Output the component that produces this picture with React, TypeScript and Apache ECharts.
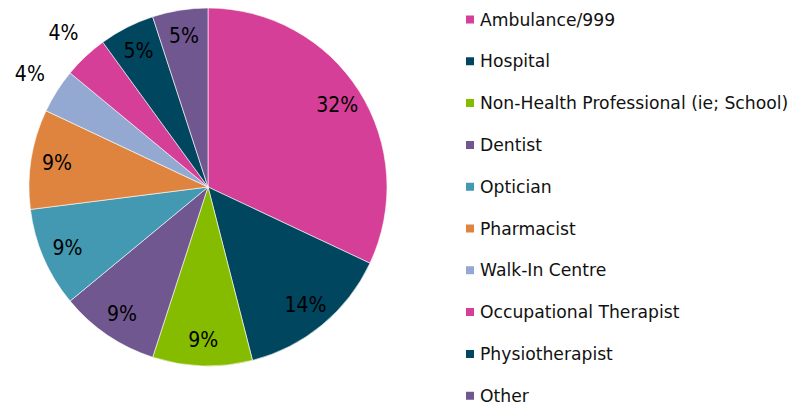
import React, { useEffect, useRef } from "react";
import * as echarts from "echarts";

const categories = [
  "Ambulance/999",
  "Hospital",
  "Non-Health Professional (ie; School)",
  "Dentist",
  "Optician",
  "Pharmacist",
  "Walk-In Centre",
  "Occupational Therapist",
  "Physiotherapist",
  "Other",
];
const values = [32, 14, 9, 9, 9, 9, 4, 4, 5, 5];
const colors = [
  "#D53F97",
  "#00465F",
  "#86BC00",
  "#71578F",
  "#4399B1",
  "#DE843F",
  "#93A9D2",
  "#D53F97",
  "#00465F",
  "#71578F",
];
// slices whose label sits outside the pie
const outsideLabel = [false, false, false, false, false, false, true, true, false, false];

const LABEL_FONT = "'DejaVu Sans Condensed', 'DejaVu Sans', sans-serif";
const LEGEND_FONT = "'DejaVu Sans', sans-serif";

export default function App() {
  const ref = useRef<HTMLDivElement>(null);
  useEffect(() => {
    document.body.style.margin = "0";
    const chart = echarts.init(ref.current!, undefined, { renderer: "svg" });
    const center = [208, 187];
    const labelStyle = {
      position: "inside",
      formatter: "{c}%",
      color: "#000",
      fontSize: 21,
      fontFamily: LABEL_FONT,
    };
    chart.setOption({
      animation: false,
      backgroundColor: "#fff",
      legend: {
        orient: "vertical",
        left: 464,
        top: 9.5,
        padding: 0,
        itemWidth: 10,
        itemHeight: 10,
        itemGap: 21.8,
        icon: "rect",
        data: categories,
        selectedMode: false,
        textStyle: { fontSize: 17.2, lineHeight: 20, color: "#111", fontFamily: LEGEND_FONT },
      },
      series: [
        {
          type: "pie",
          center,
          radius: 179,
          startAngle: 90,
          clockwise: true,
          label: { show: false },
          labelLine: { show: false },
          itemStyle: { borderColor: "#fff", borderWidth: 0.6 },
          data: categories.map((n, i) => ({
            name: n,
            value: values[i],
            itemStyle: { color: colors[i] },
          })),
        },
        {
          type: "pie",
          center,
          radius: [120, 180],
          silent: true,
          labelLine: { show: false },
          label: labelStyle,
          itemStyle: { color: "rgba(0,0,0,0)" },
          data: categories.map((n, i) => ({
            name: n,
            value: values[i],
            label: { show: !outsideLabel[i] },
          })),
        },
        {
          type: "pie",
          center,
          radius: [180, 236],
          silent: true,
          labelLine: { show: false },
          label: labelStyle,
          itemStyle: { color: "rgba(0,0,0,0)" },
          data: categories.map((n, i) => ({
            name: n,
            value: values[i],
            label: { show: outsideLabel[i] },
          })),
        },
      ],
    });
    return () => chart.dispose();
  }, []);
  return <div ref={ref} style={{ width: 795, height: 406 }} />;
}
